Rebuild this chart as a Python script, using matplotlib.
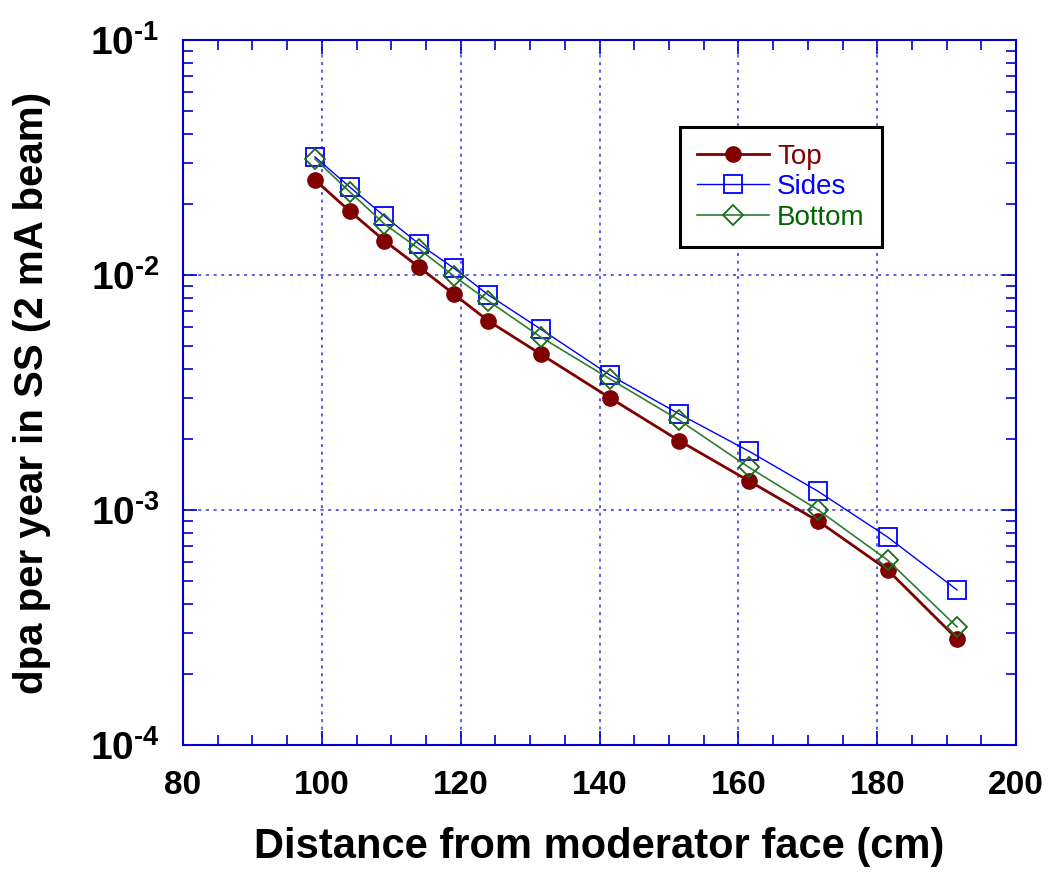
import matplotlib
matplotlib.use("Agg")
import matplotlib.pyplot as plt
from matplotlib.ticker import LogLocator, MultipleLocator, NullFormatter, FixedLocator

plt.rcParams['font.family'] = ['Liberation Sans', 'DejaVu Sans']
plt.rcParams['mathtext.fontset'] = 'custom'
plt.rcParams['mathtext.rm'] = 'Liberation Sans:bold'
plt.rcParams['mathtext.bf'] = 'Liberation Sans:bold'
plt.rcParams['mathtext.it'] = 'Liberation Sans:bold'

distance = [99, 104, 109, 114, 119, 124, 131.5, 141.5, 151.5, 161.5, 171.5, 181.5, 191.5]
top = [0.0254, 0.0187, 0.0140, 0.0108, 0.0083, 0.00637, 0.00461, 0.00300, 0.00197,
       0.00133, 0.000897, 0.000556, 0.000283]
sides = [0.0318, 0.0237, 0.0178, 0.01355, 0.0107, 0.00822, 0.00589, 0.00375, 0.00256,
         0.00178, 0.00120, 0.000767, 0.000457]
bottom = [0.0312, 0.0226, 0.0165, 0.0129, 0.0099, 0.00775, 0.00545, 0.00361, 0.00241,
          0.00152, 0.00100, 0.000612, 0.000318]

xticks = [80, 100, 120, 140, 160, 180, 200]
yticks = [1e-4, 1e-3, 1e-2, 1e-1]
ytick_labels = [r'$10^{\text{-}4}$', r'$10^{\text{-}3}$', r'$10^{\text{-}2}$', r'$10^{\text{-}1}$']

fig = plt.figure(figsize=(10.49, 8.73), dpi=100)
ax = fig.add_axes([0.1745, 0.1466, 0.7941, 0.8076])

ax.plot(distance, top, '-o', color='#800000', lw=2, ms=11, mfc='#800000', mec='#800000',
        label='Top', zorder=3)
ax.plot(distance, sides, '-s', color='#0000ff', lw=1, ms=13, mfc='none', mec='#0000ff',
        mew=1.3, label='Sides', zorder=3)
ax.plot(distance, bottom, '-D', color='#2e7d32', lw=1.2, ms=10, mfc='none', mec='#1b6b1b',
        mew=1.3, label='Bottom', zorder=3)

ax.set_yscale('log')
ax.set_xlim(80, 200)
ax.set_ylim(1e-4, 1e-1)

ax.xaxis.set_major_locator(FixedLocator(xticks))
ax.xaxis.set_minor_locator(MultipleLocator(5))
ax.set_xticklabels([str(v) for v in xticks])
ax.yaxis.set_major_locator(FixedLocator(yticks))
ax.set_yticklabels(ytick_labels)
ax.yaxis.set_minor_locator(LogLocator(base=10, subs=range(2, 10)))
ax.yaxis.set_minor_formatter(NullFormatter())

spine_color = '#0000cc'
for s in ax.spines.values():
    s.set_color(spine_color)
    s.set_linewidth(1.5)

ax.tick_params(which='both', direction='in', top=True, right=True, color=spine_color,
               width=1.2)
ax.tick_params(which='major', length=10)
ax.tick_params(axis='x', which='major', labelsize=24, pad=18)
ax.tick_params(axis='y', which='major', labelsize=28, pad=17)
ax.tick_params(which='minor', length=7)
for lab in ax.get_xticklabels() + ax.get_yticklabels():
    lab.set_fontweight('bold')

ax.grid(True, which='major', color='#3333dd', linestyle=(0, (2, 3)), linewidth=1.1)

ax.set_xlabel('Distance from moderator face (cm)', fontsize=30, fontweight='bold', labelpad=19)
ax.set_ylabel('dpa per year in SS (2 mA beam)', fontsize=29, fontweight='bold', labelpad=28)

leg = ax.legend(loc='upper left', bbox_to_anchor=(0.5966, 0.8766), borderaxespad=0,
                fontsize=20, fancybox=False, framealpha=1, edgecolor='black',
                handlelength=2.6, borderpad=0.6, labelspacing=0.16, handletextpad=0.3)
leg.get_frame().set_linewidth(2.2)
for txt, c in zip(leg.get_texts(), ['#800000', '#0000ff', '#006600']):
    txt.set_color(c)

fig.savefig('out.png', dpi=100)
